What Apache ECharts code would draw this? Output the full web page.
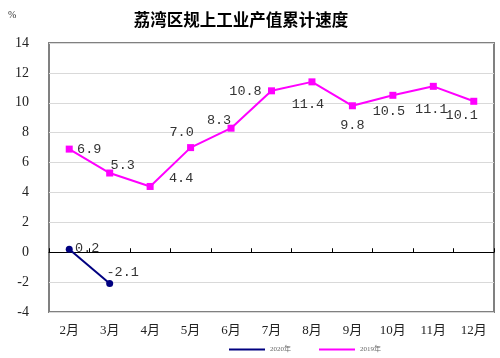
<!DOCTYPE html>
<html><head><meta charset="utf-8">
<script src="https://cdn.jsdelivr.net/npm/echarts@6/dist/echarts.min.js"></script>
<style>html,body{margin:0;padding:0;background:#fff}#c{width:500px;height:358px}</style>
</head><body><div id="c"></div>
<script>
var categories = ['2月','3月','4月','5月','6月','7月','8月','9月','10月','11月','12月'];
var values2020 = [0.2, -2.1];
var values2019 = [6.9, 5.3, 4.4, 7.0, 8.3, 10.8, 11.4, 9.8, 10.5, 11.1, 10.1];
var yTicks = {min: -4, max: 14, interval: 2};
var labelOffset2019 = [[20,0],[13,-8],[31,-8],[-9,-15],[-12,-8],[-26,1],[-4,23],[0,20],[-4,16],[-2,23],[-12,14]];
var labelOffset2020 = [[18,-1],[13,-11]];
var serif = '"Liberation Serif","Noto Sans CJK SC",serif';
var mono = '"Liberation Mono","DejaVu Sans Mono",monospace';
function mk(vals, offs){
  return vals.map(function(v,i){
    return {value:v, label:{position:'inside', align:'center', verticalAlign:'middle', offset:offs[i]}};
  });
}
var chart = echarts.init(document.getElementById('c'));
chart.setOption({
  animation:false,
  title:{text:'荔湾区规上工业产值累计速度', left:236, textAlign:'center', top:6,
    textStyle:{fontSize:16.5, fontWeight:'bold', color:'#000', fontFamily:'"Noto Sans CJK SC",sans-serif'}},
  graphic:[{type:'text', left:8, top:10, style:{text:'%', fontSize:10, fill:'#333', fontFamily:serif}}],
  legend:{bottom:0, left:224, itemWidth:36, itemHeight:2, itemGap:28,
    icon:'rect',
    textStyle:{fontSize:7, color:'#666', fontFamily:serif},
    data:['2020年','2019年']},
  grid:{left:49, right:6, top:43, bottom:46, show:true, borderColor:'#808080', borderWidth:2},
  xAxis:[
    {type:'category', data:categories, boundaryGap:true,
     axisLine:{onZero:true, lineStyle:{color:'#000', width:1}},
     axisTick:{show:true, inside:true, length:4, lineStyle:{color:'#000'}},
     axisLabel:{show:false}},
    {type:'category', data:categories, position:'bottom', boundaryGap:true,
     axisLine:{show:false}, axisTick:{show:false},
     axisLabel:{show:true, interval:0, fontSize:13, color:'#222', margin:12, fontFamily:serif}}
  ],
  yAxis:{type:'value', min:yTicks.min, max:yTicks.max, interval:yTicks.interval,
    axisLine:{show:false}, axisTick:{show:false},
    axisLabel:{fontSize:14, color:'#222', margin:20, fontFamily:serif},
    splitLine:{lineStyle:{color:'#d9d9d9', width:1}}},
  series:[
    {name:'2020年', type:'line', data:mk(values2020, labelOffset2020), xAxisIndex:0,
     symbol:'circle', symbolSize:7, color:'#000080',
     lineStyle:{width:2, color:'#000080'}, itemStyle:{color:'#000080'},
     label:{show:true, fontSize:13.5, color:'#333', fontFamily:mono}},
    {name:'2019年', type:'line', data:mk(values2019, labelOffset2019), xAxisIndex:0,
     symbol:'rect', symbolSize:7, color:'#ff00ff',
     lineStyle:{width:2, color:'#ff00ff'}, itemStyle:{color:'#ff00ff'},
     label:{show:true, fontSize:13.5, color:'#333', fontFamily:mono, formatter:function(p){return p.value.toFixed(1);}}}
  ]
});
</script></body></html>
